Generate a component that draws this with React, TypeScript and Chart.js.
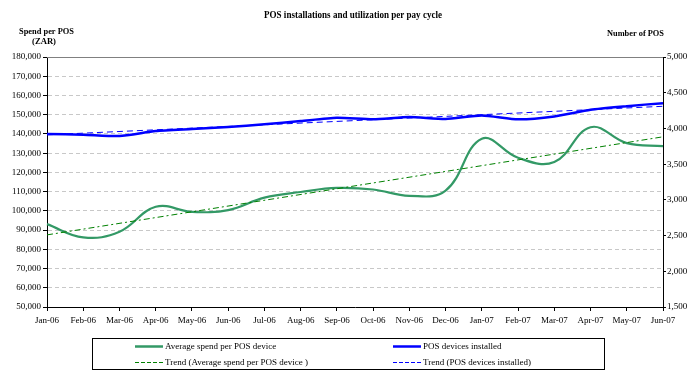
import { useEffect, useRef } from "react";
import { Chart, registerables } from "chart.js";

Chart.register(...registerables);

const title = "POS installations and utilization per pay cycle";
const leftAxisTitle = ["Spend per POS", "(ZAR)"];
const rightAxisTitle = "Number of POS";

const months = [
  "Jan-06", "Feb-06", "Mar-06", "Apr-06", "May-06", "Jun-06", "Jul-06", "Aug-06", "Sep-06",
  "Oct-06", "Nov-06", "Dec-06", "Jan-07", "Feb-07", "Mar-07", "Apr-07", "May-07", "Jun-07",
];

const avgSpend = [
  93100, 86200, 89100, 102100, 99500, 100400, 106900, 109800, 111900,
  111100, 107800, 110500, 137500, 127600, 125400, 143500, 135200, 133700,
];

const posInstalled = [
  3921, 3913, 3893, 3963, 3991, 4019, 4057, 4103, 4150,
  4127, 4159, 4131, 4182, 4127, 4168, 4262, 4312, 4354,
];

const spendTrend = [
  87500, null, null, null, null, null, null, null, null,
  null, null, null, null, null, null, null, null, 138500,
];

const posTrend = [
  3910, null, null, null, null, null, null, null, null,
  null, null, null, null, null, null, null, null, 4310,
];

const legendLabels = [
  "Average spend per POS device",
  "POS devices installed",
  "Trend (Average spend per POS device )",
  "Trend (POS devices installed)",
];

const GREEN = "#339966";
const BLUE = "#0000FF";
const TREND_GREEN = "#008000";
const FONT = "'Liberation Serif', 'Times New Roman', serif";

function drawFitted(ctx: CanvasRenderingContext2D, text: string, x: number, y: number, targetW: number, align: "left" | "center" | "right") {
  const w = ctx.measureText(text).width;
  const s = Math.min(1, targetW / w);
  ctx.save();
  ctx.textBaseline = "middle";
  ctx.textAlign = "left";
  let x0 = x;
  if (align === "center") x0 = x - (w * s) / 2;
  if (align === "right") x0 = x - w * s;
  ctx.translate(x0, y);
  ctx.scale(s, 1);
  ctx.fillText(text, 0, 0);
  ctx.restore();
}

const decorPlugin = {
  id: "decor",
  afterDraw(chart: any) {
    const ctx: CanvasRenderingContext2D = chart.ctx;
    const area = chart.chartArea;
    ctx.save();
    ctx.strokeStyle = "#808080";
    ctx.lineWidth = 1;
    ctx.beginPath();
    ctx.moveTo(area.left, area.top + 0.5);
    ctx.lineTo(area.right, area.top + 0.5);
    ctx.stroke();

    ctx.fillStyle = "#000";
    ctx.font = `bold 10px ${FONT}`;
    drawFitted(ctx, title, 353, 15, 178, "center");
    ctx.font = `bold 9px ${FONT}`;
    drawFitted(ctx, leftAxisTitle[0], 19, 32, 55, "left");
    drawFitted(ctx, leftAxisTitle[1], 44, 42, 24, "center");
    drawFitted(ctx, rightAxisTitle, 664, 34, 57, "right");

    ctx.strokeStyle = "#000";
    ctx.lineWidth = 1;
    ctx.strokeRect(92.5, 338.5, 512, 31);

    const rows = [346, 362];
    const items = [
      { x: 135, y: rows[0], color: GREEN, dash: [] as number[], w: 2.5 },
      { x: 393, y: rows[0], color: BLUE, dash: [] as number[], w: 2.5 },
      { x: 135, y: rows[1], color: TREND_GREEN, dash: [4, 2], w: 1 },
      { x: 393, y: rows[1], color: BLUE, dash: [4, 2], w: 1 },
    ];
    ctx.font = `9px ${FONT}`;
    items.forEach((it, i) => {
      ctx.save();
      ctx.strokeStyle = it.color;
      ctx.lineWidth = it.w;
      ctx.setLineDash(it.dash);
      ctx.beginPath();
      ctx.moveTo(it.x, it.y + 0.5);
      ctx.lineTo(it.x + 28, it.y + 0.5);
      ctx.stroke();
      ctx.restore();
      ctx.fillStyle = "#000";
      ctx.textAlign = "left";
      ctx.textBaseline = "middle";
      ctx.fillText(legendLabels[i], it.x + 30, it.y + 1);
    });
    ctx.restore();
  },
};

export default function App() {
  const ref = useRef<HTMLCanvasElement | null>(null);

  useEffect(() => {
    if (!ref.current) return;
    const tickFont = { family: FONT, size: 9 };
    const chart = new Chart(ref.current, {
      type: "line",
      data: {
        labels: months,
        datasets: [
          {
            label: legendLabels[0],
            data: avgSpend,
            yAxisID: "y",
            borderColor: GREEN,
            borderWidth: 2.2,
            pointRadius: 0,
            tension: 0.4,
            fill: false,
            order: 2,
          },
          {
            label: legendLabels[1],
            data: posInstalled,
            yAxisID: "y1",
            borderColor: BLUE,
            borderWidth: 2.5,
            pointRadius: 0,
            tension: 0.2,
            fill: false,
            order: 2,
          },
          {
            label: legendLabels[2],
            data: spendTrend,
            yAxisID: "y",
            borderColor: TREND_GREEN,
            borderWidth: 1,
            borderDash: [6, 3, 2, 3],
            pointRadius: 0,
            spanGaps: true,
            tension: 0,
            fill: false,
            order: 1,
          },
          {
            label: legendLabels[3],
            data: posTrend,
            yAxisID: "y1",
            borderColor: BLUE,
            borderWidth: 1,
            borderDash: [6, 4],
            pointRadius: 0,
            spanGaps: true,
            tension: 0,
            fill: false,
            order: 1,
          },
        ],
      },
      options: {
        responsive: false,
        animation: false,
        devicePixelRatio: 1,
        layout: { padding: { top: 57, left: 0, right: 0, bottom: 0 } },
        plugins: {
          legend: { display: false },
          title: { display: false },
          tooltip: { enabled: false },
        },
        scales: {
          x: {
            type: "category",
            offset: false,
            grid: {
              display: true,
              drawOnChartArea: false,
              drawTicks: true,
              tickLength: 4,
              tickColor: "#000",
              offset: false,
            },
            border: { color: "#000", width: 1 },
            ticks: { font: tickFont, color: "#000", padding: 4, maxRotation: 0, autoSkip: false },
            afterFit: (s: any) => { s.height = 74; },
          },
          y: {
            type: "linear",
            position: "left",
            min: 50000,
            max: 180000,
            ticks: {
              stepSize: 10000,
              font: tickFont,
              color: "#000",
              padding: 2,
              callback: (v: any) => Number(v).toLocaleString("en-US"),
            },
            grid: {
              color: "#C8C8C8",
              tickColor: "#000",
              tickLength: 4,
              drawTicks: true,
            },
            border: { color: "#000", width: 1, dash: [4, 3] },
            afterFit: (s: any) => { s.width = 47; },
          },
          y1: {
            type: "linear",
            position: "right",
            min: 1500,
            max: 5000,
            ticks: {
              stepSize: 500,
              font: tickFont,
              color: "#000",
              padding: 1,
              callback: (v: any) => Number(v).toLocaleString("en-US"),
            },
            grid: {
              drawOnChartArea: false,
              tickColor: "#000",
              tickLength: 3,
            },
            border: { color: "#000", width: 1 },
            afterFit: (s: any) => { s.width = 34; },
          },
        },
      },
      plugins: [decorPlugin],
    });
    return () => chart.destroy();
  }, []);

  return (
    <div style={{ position: "absolute", left: 0, top: 0, width: 697, height: 381, background: "#fff" }}>
      <canvas ref={ref} width={697} height={381} style={{ display: "block", width: 697, height: 381 }} />
    </div>
  );
}
